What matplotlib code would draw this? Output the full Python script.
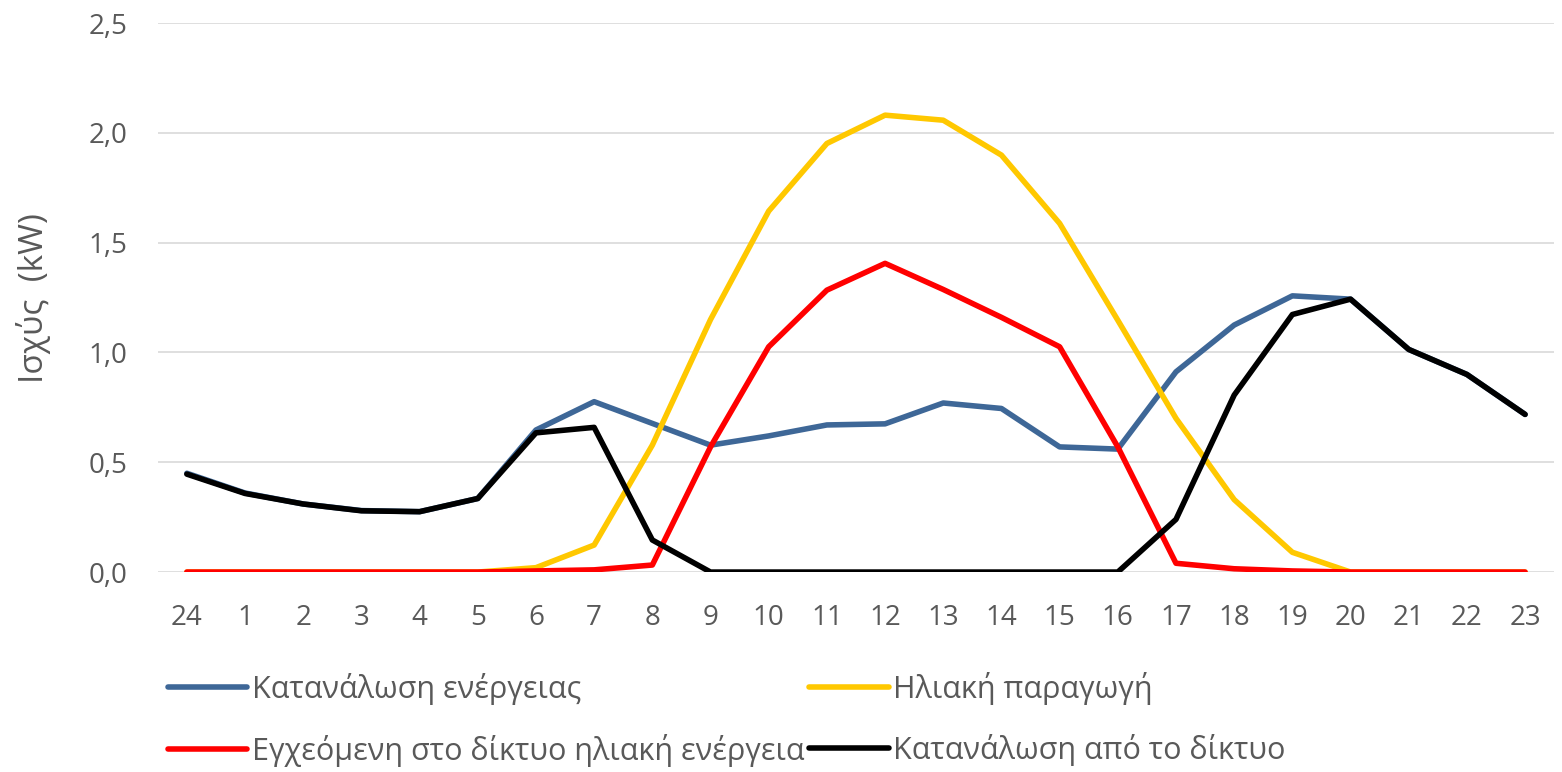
import matplotlib
matplotlib.use("Agg")
import matplotlib.pyplot as plt
from matplotlib.ticker import FuncFormatter

plt.rcParams["font.family"] = ["Open Sans", "DejaVu Sans"]

HOURS = ["24"] + [str(h) for h in range(1, 24)]

consumption = [0.45, 0.36, 0.31, 0.28, 0.275, 0.335, 0.647, 0.776, 0.677, 0.578,
               0.62, 0.67, 0.675, 0.77, 0.745, 0.57, 0.56, 0.912, 1.125, 1.258,
               1.243, 1.014, 0.90, 0.718]
solar = [0.0, 0.0, 0.0, 0.0, 0.0, 0.0, 0.02, 0.123, 0.578, 1.15,
         1.644, 1.952, 2.081, 2.058, 1.899, 1.588, 1.147, 0.70, 0.33, 0.09,
         0.0, 0.0, 0.0, 0.0]
injected = [0.0, 0.0, 0.0, 0.0, 0.0, 0.0, 0.005, 0.01, 0.032, 0.57,
            1.026, 1.284, 1.406, 1.287, 1.16, 1.026, 0.57, 0.04, 0.015, 0.005,
            0.0, 0.0, 0.0, 0.0]
from_grid = [0.446, 0.358, 0.31, 0.279, 0.275, 0.335, 0.634, 0.659, 0.146, 0.0,
             0.0, 0.0, 0.0, 0.0, 0.0, 0.0, 0.0, 0.24, 0.806, 1.173,
             1.243, 1.014, 0.90, 0.718]

LABELS = [
    "Κατανάλωση ενέργειας",
    "Ηλιακή παραγωγή",
    "Εγχεόμενη στο δίκτυο ηλιακή ενέργεια",
    "Κατανάλωση από το δίκτυο",
]
COLORS = ["#3e6797", "#ffc800", "#ff0000", "#000000"]
TEXT_COLOR = "#595959"

fig = plt.figure(figsize=(15.62, 7.72), dpi=100)
ax = fig.add_axes([0.101, 0.259, 0.894, 0.711])

x = list(range(len(HOURS)))
handles = []
for series, label, color in zip([consumption, solar, injected, from_grid], LABELS, COLORS):
    (line,) = ax.plot(x, series, color=color, linewidth=4.0, label=label,
                      solid_capstyle="round", solid_joinstyle="round")
    handles.append(line)

ax.set_xlim(-0.5, len(HOURS) - 0.5)
ax.set_ylim(0, 2.5)
ax.set_yticks([0, 0.5, 1.0, 1.5, 2.0, 2.5])
ax.yaxis.set_major_formatter(FuncFormatter(lambda v, _: f"{v:.1f}".replace(".", ",")))
ax.set_xticks(x)
ax.set_xticklabels(HOURS)
ax.tick_params(axis="both", length=0, labelsize=20, colors=TEXT_COLOR)
ax.tick_params(axis="y", pad=22)
ax.tick_params(axis="x", pad=23)
ax.grid(axis="y", color="#d9d9d9", linewidth=1.2)
ax.set_axisbelow(True)
for spine in ax.spines.values():
    spine.set_visible(False)
ax.set_ylabel("Ισχύς  (kW)", fontsize=24, color=TEXT_COLOR, labelpad=27)

# legend in rows: blue, yellow / red, black
order = [0, 2, 1, 3]
fig.legend([handles[i] for i in order], [LABELS[i] for i in order],
           ncol=2, loc="upper left", bbox_to_anchor=(168 / 1562, 1 - 672 / 772),
           frameon=False, fontsize=22, labelcolor=TEXT_COLOR,
           borderpad=0, borderaxespad=0,
           handlelength=2.6, handletextpad=0.15, columnspacing=0.15,
           labelspacing=0.95)

fig.savefig("out.png", dpi=100)
